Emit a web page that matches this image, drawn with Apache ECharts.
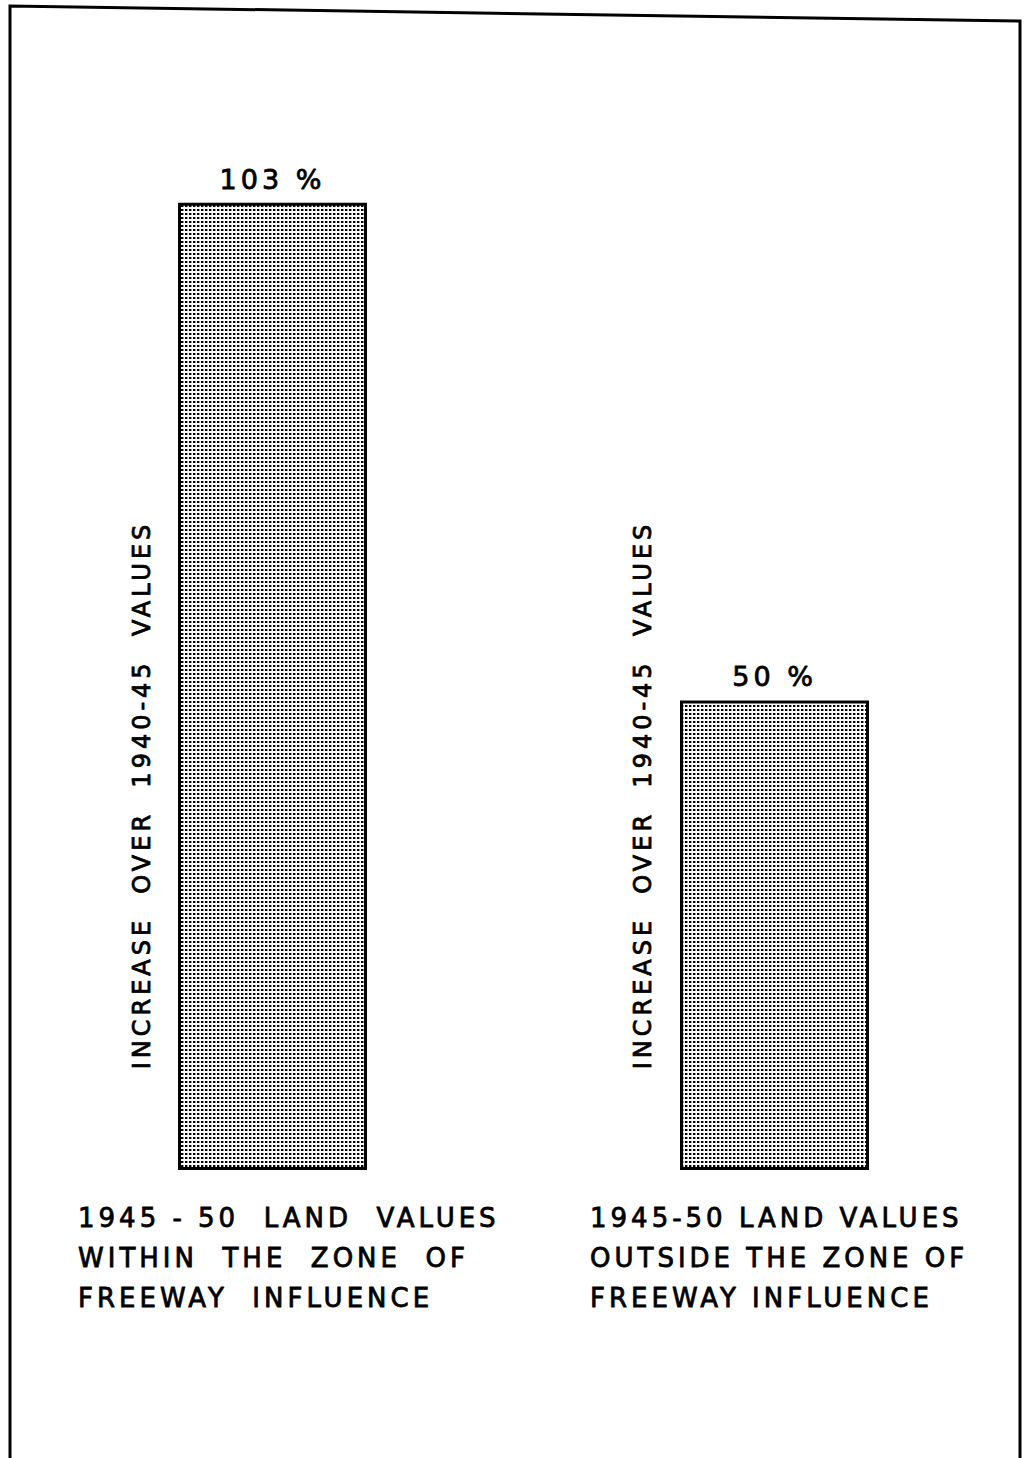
<!DOCTYPE html>
<html>
<head>
<meta charset="utf-8">
<script src="https://cdn.jsdelivr.net/npm/echarts@6/dist/echarts.min.js"></script>
<style>
  html, body { margin: 0; padding: 0; background: #fff; }
  #chart { width: 1030px; height: 1458px; }
  #chart text { letter-spacing: 4px; }
</style>
</head>
<body>
<div id="chart"></div>
<script>
// ---- data ----
const categories = ['WITHIN', 'OUTSIDE'];
const values = [103, 50];
const valueSuffix = ' %';
const sideLabel = 'INCREASE  OVER  1940-45  VALUES';
const labelLines = [
  ['1945 - 50  LAND  VALUES', 'WITHIN  THE  ZONE  OF', 'FREEWAY  INFLUENCE'],
  ['1945-50 LAND VALUES', 'OUTSIDE THE ZONE OF', 'FREEWAY INFLUENCE']
];

// dotted screen pattern
const tile = document.createElement('canvas');
tile.width = 4; tile.height = 4;
const tctx = tile.getContext('2d');
tctx.fillStyle = '#fff'; tctx.fillRect(0, 0, 4, 4);
tctx.fillStyle = '#000'; tctx.fillRect(1, 1, 2, 2);
tctx.fillStyle = '#999'; tctx.fillRect(3, 1, 1, 2);
const patternURL = tile.toDataURL();

const FONT = '"DejaVu Sans", sans-serif';
const chart = echarts.init(document.getElementById('chart'), null, { renderer: 'svg' });

const textStyle = (text, size, extra) => Object.assign({
  text: text, font: size + 'px ' + FONT, fill: '#000', stroke: '#000', lineWidth: 0.8
}, extra);

const graphic = [
  { type: 'polyline', silent: true,
    shape: { points: [[10, 1460], [10, 6], [1020, 21], [1020, 1460]] },
    style: { stroke: '#000', lineWidth: 3, fill: null } },
  { type: 'text', x: 142, y: 795, rotation: Math.PI / 2,
    style: textStyle(sideLabel, 24, { align: 'center', verticalAlign: 'middle' }) },
  { type: 'text', x: 643, y: 795, rotation: Math.PI / 2,
    style: textStyle(sideLabel, 24, { align: 'center', verticalAlign: 'middle' }) },
  { type: 'text', x: 78, y: 1198,
    style: textStyle(labelLines[0].join('\n'), 26, { lineHeight: 40, align: 'left', verticalAlign: 'top' }) },
  { type: 'text', x: 590, y: 1198,
    style: textStyle(labelLines[1].join('\n'), 26, { lineHeight: 40, align: 'left', verticalAlign: 'top' }) }
];

chart.setOption({
  backgroundColor: '#fff',
  animation: false,
  grid: { left: 21.5, right: 4.5, top: 43, bottom: 288, containLabel: false },
  xAxis: {
    type: 'category', data: categories,
    axisLine: { show: false }, axisTick: { show: false }, axisLabel: { show: false }
  },
  yAxis: { type: 'value', min: 0, max: 120, show: false },
  series: [{
    type: 'bar',
    data: values,
    barWidth: 189,
    itemStyle: {
      color: { image: patternURL, repeat: 'repeat' },
      borderColor: '#000', borderWidth: 3
    },
    label: {
      show: true, position: 'top', distance: 10,
      formatter: p => p.value + valueSuffix,
      color: '#000', fontSize: 27, fontFamily: FONT,
      textBorderColor: '#000', textBorderWidth: 0.8
    }
  }],
  graphic: graphic
});
</script>
</body>
</html>
